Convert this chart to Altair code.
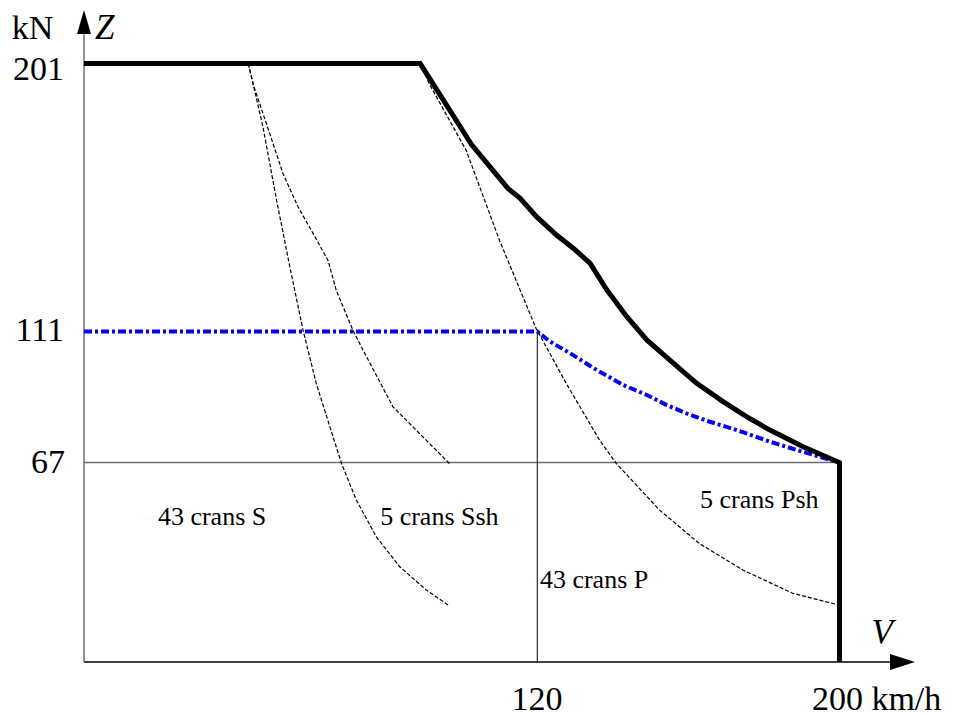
import altair as alt
import pandas as pd

# ---- data (V in km/h, Z in kN) ----
env_v = [0, 89, 102.6, 107.5, 112.3, 115.4, 119.8, 125.1, 129.6, 134, 138.4, 143.7, 149, 155.1, 162.2, 169.3, 175.4, 181.6, 190.4, 200, 200]
env_z = [201, 201, 173.8, 166.3, 159, 155.8, 149.6, 143.4, 138.9, 133.9, 125, 116, 108.2, 101.4, 93.6, 87.4, 82.4, 77.9, 72.3, 67, 0]

blue_v = [0, 120, 123.4, 128.7, 135.7, 142.8, 149, 154.3, 159.5, 165.7, 172.8, 181.6, 188.7, 200]
blue_z = [111, 111, 107.6, 103.7, 98.1, 93, 89.7, 86.3, 83.5, 80.7, 77.9, 74, 71.2, 67]

s43_v = [43.5, 44.8, 47.4, 51, 54.5, 58, 61.5, 65.1, 68.2, 72.1, 77.4, 83.6, 90.6, 96.8]
s43_z = [201, 194, 179.6, 155, 132.7, 111.4, 93.5, 79, 66.6, 54.4, 42, 32, 24.2, 18.8]

s5_v = [43.5, 44.8, 48.3, 52.7, 56.7, 60.7, 64.6, 66.8, 71.2, 73.9, 81.8, 90.6, 96.8]
s5_z = [201, 194, 180.8, 164, 152.8, 143.8, 134.9, 124.8, 111.4, 104.7, 85.7, 74.5, 66.6]

p43_v = [89, 91.5, 101.2, 110, 119.7, 127.7, 136.5, 140.9, 152.4, 162.9, 174.4, 187.6, 200]
p43_z = [201, 194, 171.8, 141.6, 112, 93.5, 74.5, 66.7, 51, 39.8, 30.9, 23.1, 19.1]

# reference lines
ref_z = 67          # horizontal thin line
ref_v = 120         # vertical thin line
ref_v_top = 111
v_max = 220         # end of V axis (arrow tip)
z_max = 219         # end of Z axis (arrow tip)

# texts
lab_text = ["201", "111", "67", "kN", "200 km/h", "Z", "V", "120",
            "43 crans S", "5 crans Ssh", "43 crans P", "5 crans Psh"]
lab_v = [-5.3, -5.3, -5.0, -19.1, 192.7, 2.9, 208.5, 119.9,
         33.9, 78.4, 120.7, 163.1]
lab_z = [198.9, 111.2, 67.0, 212.6, -12.6, 213.0, 9.7, -12.6,
         48.7, 48.7, 27.5, 54.4]
lab_grp = ["tick_r", "tick_r", "tick_r", "tick_l", "tick_l", "ital", "ital", "tick_c",
           "small_c", "small_l", "small_l", "small_l"]

FONT = "Liberation Serif"
xs = alt.Scale(domain=[0, v_max], nice=False, zero=False)
ys = alt.Scale(domain=[0, z_max], nice=False, zero=False)


def frame(name, vs, zs):
    return pd.DataFrame({"curve": name, "V": vs, "Z": zs, "i": list(range(len(vs)))})


def xy():
    return dict(x=alt.X("V:Q", scale=xs, axis=None), y=alt.Y("Z:Q", scale=ys, axis=None))


dashed = pd.concat([frame("43 crans S", s43_v, s43_z),
                    frame("5 crans Ssh", s5_v, s5_z),
                    frame("43 crans P", p43_v, p43_z)])

# axis lines
x_axis = alt.Chart(pd.DataFrame({"V": [0], "V2": [v_max - 3], "Z": [0]})).mark_rule(
    color="black", strokeWidth=1.5).encode(
    x=alt.X("V:Q", scale=xs, axis=None), x2="V2:Q", y=alt.Y("Z:Q", scale=ys, axis=None))
y_axis = alt.Chart(pd.DataFrame({"V": [0], "Z": [0], "Z2": [z_max - 3]})).mark_rule(
    color="#6e6e6e", strokeWidth=1.5).encode(
    x=alt.X("V:Q", scale=xs, axis=None), y=alt.Y("Z:Q", scale=ys, axis=None), y2="Z2:Q")

hline = alt.Chart(pd.DataFrame({"V": [0], "V2": [200], "Z": [ref_z]})).mark_rule(
    color="#6e6e6e", strokeWidth=1.5).encode(
    x=alt.X("V:Q", scale=xs, axis=None), x2="V2:Q", y=alt.Y("Z:Q", scale=ys, axis=None))

vline = alt.Chart(pd.DataFrame({"V": [ref_v], "Z": [0], "Z2": [ref_v_top]})).mark_rule(
    color="black", strokeWidth=1).encode(
    x=alt.X("V:Q", scale=xs, axis=None), y=alt.Y("Z:Q", scale=ys, axis=None), y2="Z2:Q")

dash_lines = alt.Chart(dashed).mark_line(color="black", strokeWidth=1.2, strokeDash=[4, 2]).encode(
    **xy(), detail="curve:N", order="i:Q")

blue = alt.Chart(frame("shunt", blue_v, blue_z)).mark_line(
    color="#0000ff", strokeWidth=4, strokeDash=[8, 3, 3, 3]).encode(**xy(), order="i:Q")

env = alt.Chart(frame("env", env_v, env_z)).mark_line(
    color="black", strokeWidth=5, strokeJoin="miter").encode(**xy(), order="i:Q")

arrow_x = alt.Chart(pd.DataFrame({"V": [v_max], "Z": [0]})).mark_point(
    shape="M0,0L-2,-0.64L-2,0.64Z", filled=True, size=625, color="black", opacity=1, strokeWidth=0
).encode(**xy())
arrow_y = alt.Chart(pd.DataFrame({"V": [0], "Z": [z_max]})).mark_point(
    shape="M0,0L-0.58,2L0.58,2Z", filled=True, size=576, color="black", opacity=1, strokeWidth=0
).encode(**xy())

labels = pd.DataFrame({"t": lab_text, "V": lab_v, "Z": lab_z, "g": lab_grp})


def txt(group, align, size, style="normal"):
    return alt.Chart(labels).transform_filter(alt.datum.g == group).mark_text(
        align=align, baseline="middle", font=FONT, fontSize=size, fontStyle=style, color="black"
    ).encode(**xy(), text="t:N")


texts = [
    txt("tick_r", "right", 34),
    txt("tick_l", "left", 34),
    txt("tick_c", "center", 34),
    txt("ital", "left", 35, "italic"),
    txt("small_c", "center", 26),
    txt("small_l", "left", 26),
]

chart = alt.layer(x_axis, y_axis, hline, vline, dash_lines, blue, env, arrow_x, arrow_y, *texts).properties(
    width=831, height=652,
    padding={"left": 76, "top": 2, "right": 36, "bottom": 54},
    autosize=alt.AutoSizeParams(type="none"),
    background="white",
).configure_view(stroke=None)

chart.save("out.html", embed_options={"renderer": "svg", "actions": False})
